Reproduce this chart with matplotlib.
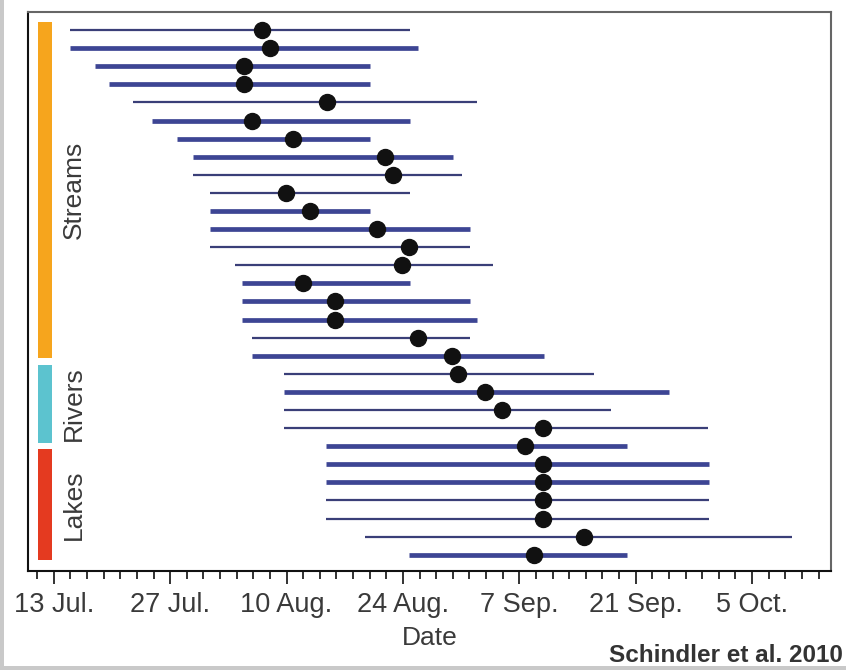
import numpy as np
import matplotlib.pyplot as plt
from matplotlib.patches import Rectangle

plt.rcParams['font.family'] = ['Liberation Sans', 'DejaVu Sans']

# Days counted from 13 Jul. (day 0)
tick_days = [0, 14, 28, 42, 56, 70, 84]
tick_labels = ['13 Jul.', '27 Jul.', '10 Aug.', '24 Aug.', '7 Sep.', '21 Sep.', '5 Oct.']

# one row per water body, top to bottom
range_start = [1.9, 1.9, 4.9, 6.7, 9.5, 11.8, 14.8, 16.7, 16.7, 18.8,
               18.8, 18.8, 18.8, 21.8, 22.7, 22.7, 22.7, 23.8, 23.8,
               27.7, 27.7, 27.7, 27.7,
               32.7, 32.7, 32.7, 32.7, 32.7, 37.5, 42.7]
range_end = [42.8, 43.8, 38.0, 38.0, 50.9, 42.8, 38.0, 48.0, 49.1, 42.8,
             38.0, 50.1, 50.1, 52.8, 42.8, 50.1, 50.9, 50.1, 59.0,
             65.0, 74.0, 67.0, 78.7,
             69.0, 78.8, 78.8, 78.8, 78.8, 88.8, 69.0]
peak_day = [25.0, 26.0, 22.9, 22.9, 32.9, 23.9, 28.8, 39.8, 40.8, 27.9,
            30.8, 38.9, 42.7, 41.9, 30.0, 33.8, 33.8, 43.8, 47.9,
            48.6, 51.9, 53.9, 58.8,
            56.7, 58.8, 58.8, 58.8, 58.8, 63.8, 57.8]
bar_heavy = [0, 1, 1, 1, 0, 1, 1, 1, 0, 0,
             1, 1, 0, 0, 1, 1, 1, 0, 1,
             0, 1, 0, 0,
             1, 1, 1, 0, 0, 0, 1]

group_names = ['Streams', 'Rivers', 'Lakes']
group_colors = ['#f6a51d', '#5cc3cf', '#e43a20']
# vertical extent of the coloured side bars, in row units
group_spans = [(0.55, 19.1), (19.5, 23.8), (24.15, 30.3)]

fig = plt.figure(figsize=(8.46, 6.70), dpi=100)
ax = fig.add_axes([28/846, 1 - 571/670, (831-28)/846, (571-12)/670])

rows = np.arange(1, len(peak_day) + 1)
for r, s, e, h in zip(rows, range_start, range_end, bar_heavy):
    ax.plot([s, e], [r, r], color='#3d4594' if h else '#3a3f78',
            lw=3.4 if h else 1.6, solid_capstyle='butt', zorder=2)
ax.plot(peak_day, rows, 'o', color='#111111', ms=11.5, zorder=3)

for name, col, (y0, y1) in zip(group_names, group_colors, group_spans):
    ax.add_patch(Rectangle((-1.9, y0), 1.7, y1 - y0, color=col, lw=0, zorder=2))
    ax.text(2.4, (y0 + y1) / 2, name, rotation=90, ha='center', va='center',
            fontsize=19, color='#3a3a3a')

ax.set_xlim(-3.1, 93.5)
ax.set_ylim(30.9, 0)
ax.set_xticks(tick_days)
ax.set_xticklabels(tick_labels, fontsize=19.5, color='#3a3a3a')
ax.set_xticks(np.arange(-2, 93, 2), minor=True)
ax.tick_params(axis='x', which='major', length=9, width=1.3, pad=6, color='#222222')
ax.tick_params(axis='x', which='minor', length=6, width=1.3, color='#222222')
ax.set_yticks([])
ax.set_xlabel('Date', fontsize=19, color='#3a3a3a', labelpad=6)

for side in ['top', 'right']:
    ax.spines[side].set_color('#666666')
    ax.spines[side].set_linewidth(1.5)
for side in ['left', 'bottom']:
    ax.spines[side].set_color('#111111')
    ax.spines[side].set_linewidth(1.5)

fig.text(843/846, 1 - 655/670, 'Schindler et al. 2010', ha='right', va='center',
         fontsize=17.5, fontweight='bold', color='#333333')

# light grey frame along the left and bottom edges
fig.patches.append(Rectangle((0, 0), 4/846, 1, transform=fig.transFigure,
                             color='#c9c9c9', lw=0, zorder=10))
fig.patches.append(Rectangle((0, 0), 1, 4/670, transform=fig.transFigure,
                             color='#c9c9c9', lw=0, zorder=10))

plt.savefig('out.png', dpi=100)
